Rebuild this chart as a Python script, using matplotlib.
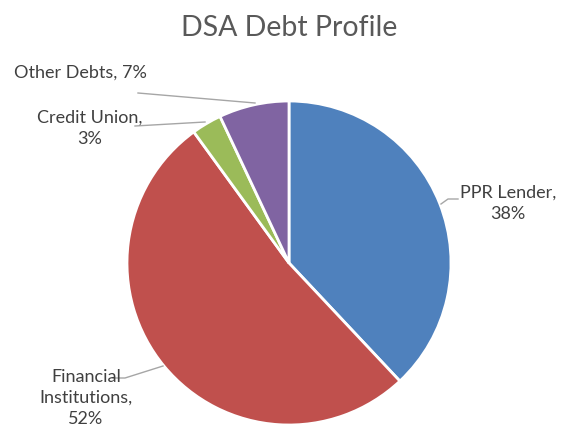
import matplotlib.pyplot as plt

labels = ["PPR Lender", "Financial Institutions", "Credit Union", "Other Debts"]
shares = [38, 52, 3, 7]
colors = ["#4F81BD", "#C0504D", "#9BBB59", "#8064A2"]

# label text, text anchor (x, y), leader line points - all in pixel units of the canvas
label_text = ["PPR Lender,\n38%", "Financial\nInstitutions,\n52%", "Credit Union,\n3%", "Other Debts, 7%"]
label_pos = [(508, 203), (86, 398), (90, 128), (80, 73)]
leaders = [
    [(441, 204), (448, 199), (458, 199)],
    [(163, 366), (125, 378), (113, 378)],
    [(205, 122), (135, 126)],
    [(255, 103), (138, 93)],
]

W, H = 565, 432
plt.rcParams["font.family"] = ["Lato", "DejaVu Sans"]
fig = plt.figure(figsize=(W / 100, H / 100), dpi=100)

# pie axis, y pointing up
ax_pie = fig.add_axes([0, 0, 1, 1])
ax_pie.pie(shares, colors=colors, startangle=90, counterclock=False,
           center=(289, H - 263), radius=162, frame=True,
           wedgeprops=dict(edgecolor="white", linewidth=2))
ax_pie.set_xlim(0, W)
ax_pie.set_ylim(0, H)
ax_pie.set_aspect("auto")
ax_pie.axis("off")

# overlay for labels and leader lines, y pointing down
ax = fig.add_axes([0, 0, 1, 1])
ax.set_xlim(0, W)
ax.set_ylim(H, 0)
ax.axis("off")

for txt, (x, y), pts in zip(label_text, label_pos, leaders):
    ax.text(x, y, txt, ha="center", va="center", fontsize=13,
            color="#404040", linespacing=1.42)
    xs = [p[0] for p in pts]
    ys = [p[1] for p in pts]
    ax.plot(xs, ys, color="#A6A6A6", linewidth=1)

ax.text(289, 28, "DSA Debt Profile", ha="center", va="center",
        fontsize=20.5, color="#595959")

fig.savefig("out.png", dpi=100)
